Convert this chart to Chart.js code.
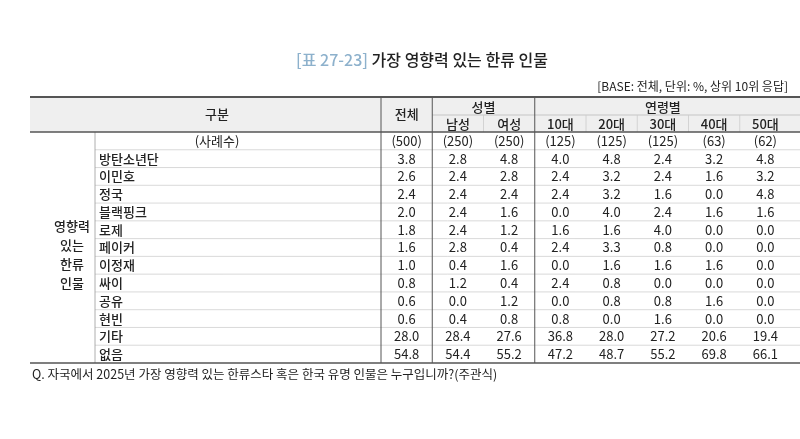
<!DOCTYPE html>
<html><head><meta charset="utf-8">
<script src="https://cdn.jsdelivr.net/npm/chart.js@4"></script>
<style>html,body{margin:0;padding:0;background:#fff}canvas{display:block}</style>
</head><body>
<canvas id="c" width="800" height="439"></canvas>
<script>
const title = "[표 27-23]";
const titleRest = " 가장 영향력 있는 한류 인물";
const baseNote = "[BASE: 전체, 단위: %, 상위 10위 응답]";
const footer = "Q. 자국에서 2025년 가장 영향력 있는 한류스타 혹은 한국 유명 인물은 누구입니까?(주관식)";
const columns = ["전체","남성","여성","10대","20대","30대","40대","50대"];
const sampleSizes = ["(500)","(250)","(250)","(125)","(125)","(125)","(63)","(62)"];
const names = ["방탄소년단","이민호","정국","블랙핑크","로제","페이커","이정재","싸이","공유","현빈","기타","없음"];
const total  = [3.8,2.6,2.4,2.0,1.8,1.6,1.0,0.8,0.6,0.6,28.0,54.8];
const male   = [2.8,2.4,2.4,2.4,2.4,2.8,0.4,1.2,0.0,0.4,28.4,54.4];
const female = [4.8,2.8,2.4,1.6,1.2,0.4,1.6,0.4,1.2,0.8,27.6,55.2];
const age10  = [4.0,2.4,2.4,0.0,1.6,2.4,0.0,2.4,0.0,0.8,36.8,47.2];
const age20  = [4.8,3.2,3.2,4.0,1.6,3.3,1.6,0.8,0.8,0.0,28.0,48.7];
const age30  = [2.4,2.4,1.6,2.4,4.0,0.8,1.6,0.0,0.8,1.6,27.2,55.2];
const age40  = [3.2,1.6,0.0,1.6,0.0,0.0,1.6,0.0,1.6,0.0,20.6,69.8];
const age50  = [4.8,3.2,4.8,1.6,0.0,0.0,0.0,0.0,0.0,0.0,19.4,66.1];
const series = [total,male,female,age10,age20,age30,age40,age50];
const rowLabels = ["(사례수)"].concat(names);

const F = '"Noto Sans CJK KR","Noto Sans",sans-serif';
const tablePlugin = {
  id:'table',
  afterDraw(chart){
    const ctx = chart.ctx, xs = chart.scales.x, ys = chart.scales.y, a = chart.chartArea;
    const step = ys.getPixelForValue(1)-ys.getPixelForValue(0);
    const cstep = xs.getPixelForValue(1)-xs.getPixelForValue(0);
    const L = 30, R = 800, top = 97, hb = a.top, bot = a.bottom;
    ctx.save();
    ctx.fillStyle = '#efefef'; ctx.fillRect(L, top, R-L, hb-top);
    ctx.textBaseline='middle';
    ctx.font = '500 16px '+F;
    const w1 = ctx.measureText(title).width, w2 = ctx.measureText(titleRest).width;
    let tx = 422-(w1+w2)/2;
    ctx.textAlign='left'; ctx.fillStyle='#8db1cc'; ctx.fillText(title, tx, 60);
    ctx.fillStyle='#222'; ctx.fillText(titleRest, tx+w1, 60);
    ctx.font = '12px '+F; ctx.textAlign='right'; ctx.fillText(baseNote, 788, 86);
    const line=(x1,y1,x2,y2,c,w)=>{ctx.strokeStyle=c;ctx.lineWidth=w;ctx.beginPath();ctx.moveTo(x1,y1);ctx.lineTo(x2,y2);ctx.stroke();};
    for(let i=1;i<rowLabels.length;i++){
      const y = ys.getPixelForValue(i)-step/2;
      line(95,y,R,y,'#cfcfcf',0.8);
    }
    const sub = 115;
    line(xs.getPixelForValue(1)-cstep/2, sub, R, sub, '#bbb', 0.8);
    line(xs.getPixelForValue(1)-cstep/2, top, xs.getPixelForValue(1)-cstep/2, bot, '#555', 1);
    line(xs.getPixelForValue(3)-cstep/2, top, xs.getPixelForValue(3)-cstep/2, bot, '#555', 1);
    line(a.left, top, a.left, bot, '#555', 1);
    line(95, hb, 95, bot, '#999', 0.8);
    for(let c of [2,4,5,6,7]){const x=xs.getPixelForValue(c)-cstep/2; line(x,sub,x,hb,'#ccc',0.8);}
    line(L, top, R, top, '#555', 2);
    line(L, hb, R, hb, '#555', 1.5);
    line(L, bot, R, bot, '#555', 1.5);
    ctx.fillStyle='#222'; ctx.textAlign='center';
    ctx.font = '500 13px '+F;
    ctx.fillText('구분', 217, (top+hb)/2);
    ctx.fillText('전체', xs.getPixelForValue(0), (top+hb)/2);
    ctx.fillText('성별', (xs.getPixelForValue(1)+xs.getPixelForValue(2))/2, (top+sub)/2+1);
    ctx.fillText('연령별', (xs.getPixelForValue(3)+xs.getPixelForValue(7))/2, (top+sub)/2+1);
    for(let c=1;c<columns.length;c++) ctx.fillText(columns[c], xs.getPixelForValue(c), (sub+hb)/2+1);
    const gm = (ys.getPixelForValue(1)+ys.getPixelForValue(names.length))/2;
    ['영향력','있는','한류','인물'].forEach((s,i)=>ctx.fillText(s, 72, gm-30+i*19));
    ctx.font = '13px '+F;
    ctx.fillText(rowLabels[0], 217, ys.getPixelForValue(0));
    ctx.textAlign='left';
    ctx.font = '500 13px '+F;
    for(let i=1;i<rowLabels.length;i++) ctx.fillText(rowLabels[i], 99, ys.getPixelForValue(i));
    ctx.textAlign='center';
    ctx.font = '13px '+F;
    columns.forEach((c,ci)=>{
      ctx.fillText(sampleSizes[ci], xs.getPixelForValue(ci), ys.getPixelForValue(0));
      series[ci].forEach((v,ri)=>ctx.fillText(v.toFixed(1), xs.getPixelForValue(ci), ys.getPixelForValue(ri+1)));
    });
    ctx.textAlign='left'; ctx.font='12.5px '+F;
    ctx.fillText(footer, 32, 374);
    ctx.restore();
  }
};
new Chart(document.getElementById('c'),{
  type:'bar',
  data:{labels:columns,datasets:[]},
  options:{responsive:false,animation:false,
    layout:{padding:{left:381,right:9,top:132,bottom:76}},
    plugins:{legend:{display:false},tooltip:{enabled:false}},
    scales:{
      x:{type:'category',labels:columns,offset:true,display:false},
      y:{type:'category',labels:rowLabels,offset:true,display:false}
    }},
  plugins:[tablePlugin]
});
</script>
</body></html>
